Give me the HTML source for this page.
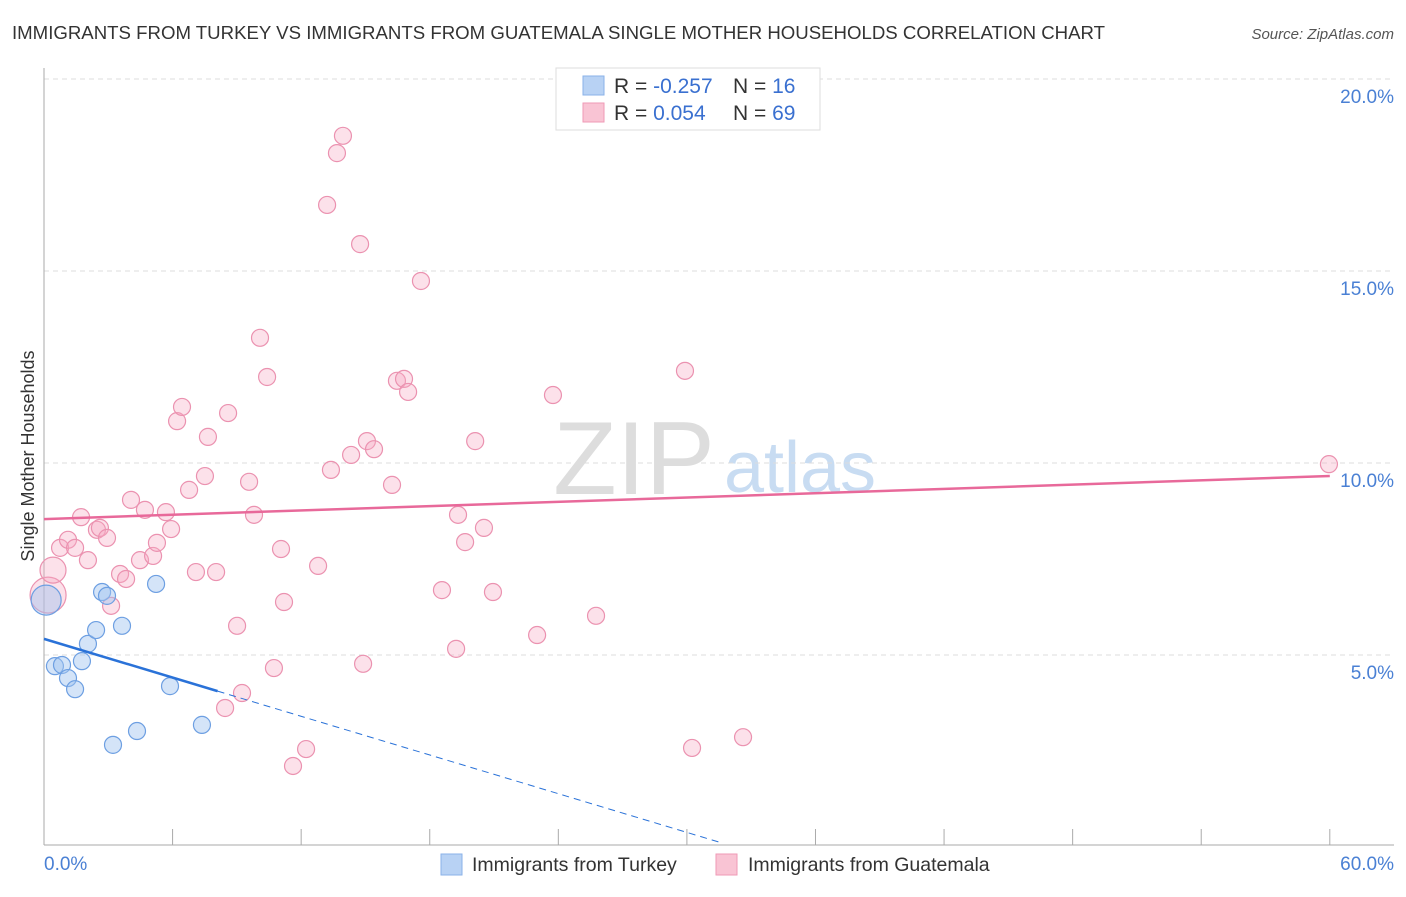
<!DOCTYPE html>
<html><head><meta charset="utf-8"><style>
body{margin:0;background:#fff;font-family:"Liberation Sans",sans-serif;}
svg text{font-family:"Liberation Sans",sans-serif;}
</style></head><body>
<svg id="c" width="1406" height="892">
<text x="12" y="39" font-size="18.5" fill="#333" textLength="1093" lengthAdjust="spacingAndGlyphs">IMMIGRANTS FROM TURKEY VS IMMIGRANTS FROM GUATEMALA SINGLE MOTHER HOUSEHOLDS CORRELATION CHART</text>
<text x="1394" y="39" font-size="15" fill="#555" font-style="italic" text-anchor="end">Source: ZipAtlas.com</text>
<text x="634" y="494" font-size="104" fill="#ddd" font-family="Liberation Serif" text-anchor="middle">ZIP</text>
<text x="800" y="492" font-size="72" fill="#c8dcf2" text-anchor="middle">atlas</text>
<text transform="translate(34,456) rotate(-90)" font-size="18" fill="#333" text-anchor="middle">Single Mother Households</text>
<g id="grid"></g><g id="pts"></g><g id="lines"></g>
<g>
<rect x="556" y="68" width="264" height="62" fill="#fff" stroke="#ddd"/>
<rect x="583" y="76" width="21" height="19" fill="#b8d2f4" stroke="#8ab2e8"/>
<rect x="583" y="103" width="21" height="19" fill="#f9c4d4" stroke="#ef9ab6"/>
<text x="614" y="93" font-size="21" fill="#333">R = <tspan fill="#3a70d0">-0.257</tspan></text>
<text x="733" y="93" font-size="21" fill="#333">N = <tspan fill="#3a70d0"> 16</tspan></text>
<text x="614" y="120" font-size="21" fill="#333">R = <tspan fill="#3a70d0"> 0.054</tspan></text>
<text x="733" y="120" font-size="21" fill="#333">N = <tspan fill="#3a70d0">69</tspan></text>
</g>
<g>
<rect x="441" y="854" width="21" height="21" fill="#b8d2f4" stroke="#8ab2e8"/>
<text x="472" y="871" font-size="19.5" fill="#333">Immigrants from Turkey</text>
<rect x="716" y="854" width="21" height="21" fill="#f9c4d4" stroke="#ef9ab6"/>
<text x="748" y="871" font-size="19.5" fill="#333">Immigrants from Guatemala</text>
</g>
<text x="44" y="870" font-size="19" fill="#4a80d4">0.0%</text>
<text x="1394" y="870" font-size="19" fill="#4a80d4" text-anchor="end">60.0%</text>
</svg>
<script>
const yTicks=[5,10,15,20];
const yTickLabels=["5.0%","10.0%","15.0%","20.0%"];
const xTicks=[0,6,12,18,24,30,36,42,48,54,60];
const turkeyX=[0.1,0.51,0.84,1.12,1.45,1.77,2.05,2.43,2.71,2.94,3.64,5.23,5.88,3.22,4.34,7.37];
const turkeyY=[6.43,4.71,4.74,4.40,4.11,4.84,5.29,5.65,6.64,6.54,5.76,6.85,4.19,2.66,3.02,3.18];
const guatX=[0.19,0.42,0.75,1.12,1.45,1.73,2.05,2.47,2.61,2.94,3.13,3.55,3.83,4.06,4.48,4.71,5.09,5.27,5.69,5.93,6.21,6.44,6.77,7.09,7.51,7.65,8.03,8.59,8.45,9.01,9.24,9.57,9.80,10.08,10.41,10.73,11.06,11.20,11.62,12.23,12.79,13.21,13.39,13.67,13.95,14.33,14.75,14.89,15.07,15.40,16.24,16.47,16.80,16.99,17.59,18.57,19.23,19.32,19.65,20.12,20.53,20.95,23.01,23.75,25.76,29.91,30.24,32.62,59.96];
const guatY=[6.56,7.21,7.79,8.0,7.79,8.59,7.47,8.26,8.31,8.05,6.28,7.11,6.98,9.04,7.47,8.78,7.58,7.92,8.72,8.28,11.09,11.46,9.30,7.16,9.66,10.68,7.16,11.30,3.62,5.76,4.01,9.51,8.65,13.26,12.24,4.66,7.76,6.38,2.11,2.55,7.32,16.72,9.82,18.07,18.52,10.21,15.70,4.77,10.57,10.36,9.43,12.14,12.19,11.85,14.74,6.69,5.16,8.65,7.94,10.57,8.31,6.64,5.52,11.77,6.02,12.40,2.58,2.86,9.97];
const turkeyTrend=[5.42,-0.168];
const guatTrend=[8.54,0.0187];
const X=v=>44+v*21.43, Y=v=>847-v*38.4;
const NS="http://www.w3.org/2000/svg";
function mk(t,a,p){const e=document.createElementNS(NS,t);for(const k in a)e.setAttribute(k,a[k]);p.appendChild(e);return e;}
const grid=document.getElementById('grid');
yTicks.forEach((v,i)=>{
 const l=mk('line',{x1:44,x2:1394,y1:Y(v),y2:Y(v),stroke:'#ddd','stroke-dasharray':'5,4'},grid);
 
 
 const t=mk('text',{x:1394,y:Y(v)+24,'font-size':19,fill:'#4a80d4','text-anchor':'end'},grid);
 t.textContent=yTickLabels[i];
 
 
});
mk('line',{x1:44,x2:44,y1:68,y2:845,stroke:'#aaa'},grid);
mk('line',{x1:44,x2:1394,y1:845,y2:845,stroke:'#aaa'},grid);
xTicks.forEach(v=>{const l=mk('line',{x1:X(v),x2:X(v),y1:829,y2:845,stroke:'#aaa'},grid);
 
 });
const pts=document.getElementById('pts');
guatX.forEach((x,i)=>{const r=i==0?18:(i==1?13:8.5);
 const c=mk('circle',{cx:X(x),cy:Y(guatY[i]),r:r,fill:'rgba(246,170,196,0.35)',stroke:'#eb92b0','stroke-width':1.2},pts);
 
 });
turkeyX.forEach((x,i)=>{const r=i==0?15:8.5;
 const c=mk('circle',{cx:X(x),cy:Y(turkeyY[i]),r:r,fill:'rgba(160,196,240,0.45)',stroke:'#6d9fe2','stroke-width':1.2},pts);
 
 });
const lines=document.getElementById('lines');
const tf=x=>turkeyTrend[0]+turkeyTrend[1]*x, gf=x=>guatTrend[0]+guatTrend[1]*x;
const a=mk('line',{x1:X(0),y1:Y(tf(0)),x2:X(8.1),y2:Y(tf(8.1)),stroke:'#2a72d8','stroke-width':2.5},lines);


const b=mk('line',{x1:X(8.1),y1:Y(tf(8.1)),x2:X(31.5),y2:Y(tf(31.5)),stroke:'#2a72d8','stroke-width':1,'stroke-dasharray':'7,5'},lines);


const g=mk('line',{x1:X(0),y1:Y(gf(0)),x2:X(60),y2:Y(gf(60)),stroke:'#e8699a','stroke-width':2.5},lines);


</script>
</body></html>
